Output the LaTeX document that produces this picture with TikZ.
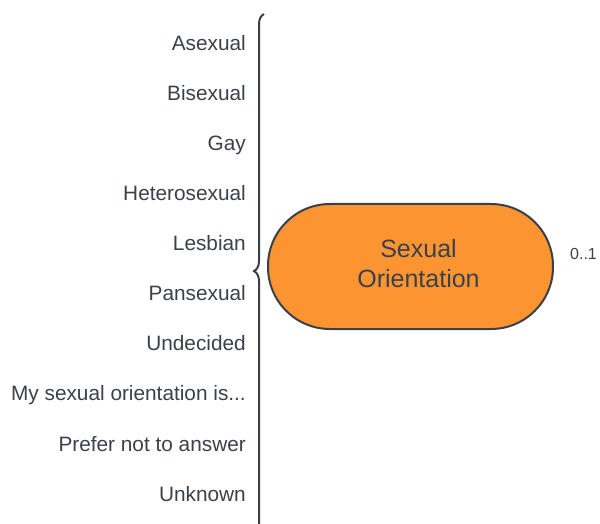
\documentclass[tikz,border=0pt]{standalone}
\usepackage{fontspec}
\setmainfont{Liberation Sans}
\usepackage{xcolor}
\usepackage{tikz}
\usetikzlibrary{positioning, decorations.pathreplacing}
\definecolor{inkGray}{HTML}{3A414A}
\definecolor{lineGray}{HTML}{3B4048}
\definecolor{pillOrange}{HTML}{FC9432}

\begin{document}
\begin{tikzpicture}[
      x=1pt, y=1pt,
      every node/.style={text=inkGray},
      optlabel/.style={inner sep=0pt, font=\fontsize{20.8}{25}\selectfont,
                       text height=17.6pt, text depth=2.8pt},
      pill/.style={rectangle, rounded corners=62pt, draw=lineGray, line width=2pt,
                   fill=pillOrange, minimum width=285pt, minimum height=125pt,
                   align=center, font=\fontsize{25}{30}\selectfont},
      mult/.style={inner sep=0pt, font=\fontsize{16}{19}\selectfont},
      curly/.style={decorate, decoration={brace, amplitude=10pt, aspect=0.514},
                    draw=lineGray, line width=2pt},
    ]

      \clip (0,0) rectangle (600,523);

      % the answer options
      \node[optlabel, anchor=east] (asexual) at (246,480.2) {Asexual};
      \node[optlabel, below=50.1pt of asexual.east, anchor=east] (bisexual) {Bisexual};
      \node[optlabel, below=50.1pt of bisexual.east, anchor=east] (gay) {Gay};
      \node[optlabel, below=50.1pt of gay.east, anchor=east] (hetero) {Heterosexual};
      \node[optlabel, below=50.1pt of hetero.east, anchor=east] (lesbian) {Lesbian};
      \node[optlabel, below=50.1pt of lesbian.east, anchor=east] (pansexual) {Pansexual};
      \node[optlabel, below=50.1pt of pansexual.east, anchor=east] (undecided) {Undecided};
      \node[optlabel, below=50.1pt of undecided.east, anchor=east] (selfdesc) {My sexual orientation is...};
      \node[optlabel, below=50.1pt of selfdesc.east, anchor=east] (noanswer) {Prefer not to answer};
      \node[optlabel, below=50.1pt of noanswer.east, anchor=east] (unknown) {Unknown};

      % attribute + multiplicity
      \node[pill] (orient) at (410.5,256.5)
        {\hspace*{16pt}\raisebox{4pt}{\begin{tabular}{@{}c@{}}Sexual\\Orientation\end{tabular}}};
      \node[mult, right=16pt of orient.east, yshift=13pt, anchor=west] (card) {0..1};

      % brace
      \coordinate (bracetop) at (264,509);
      \coordinate (bracebot) at (264,-20);
      \draw[curly] (bracebot) -- (bracetop);

    \end{tikzpicture}
\end{document}
